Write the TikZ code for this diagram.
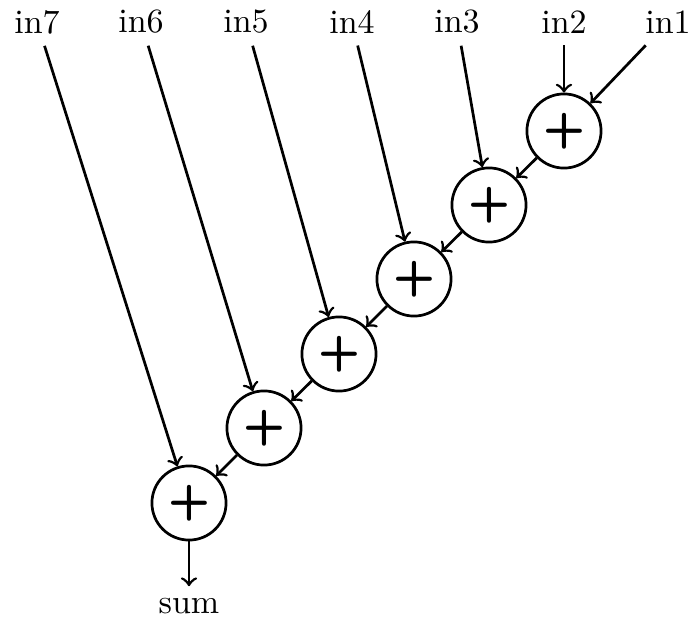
\documentclass[tikz,border=0pt]{standalone}
\begin{document}
\begin{tikzpicture}[x=0.2941pt,y=-0.2941pt,
  adder/.style={circle,draw,thick,minimum size=21.8pt,inner sep=0pt,font=\Large\sffamily\bfseries},
  lbl/.style={},
  conn/.style={->,thick}]
\useasboundingbox (0,0) rectangle (692,630);
\node[lbl] (in7) at (37,22) {in7};
\node[lbl] (in6) at (141,22) {in6};
\node[lbl] (in5) at (246,22) {in5};
\node[lbl] (in4) at (352,22) {in4};
\node[lbl] (in3) at (457,22) {in3};
\node[lbl] (in2) at (564,22) {in2};
\node[lbl] (in1) at (668,22) {in1};
\node[adder] (a1) at (564,131) {+};
\node[adder] (a2) at (489,205) {+};
\node[adder] (a3) at (414,279) {+};
\node[adder] (a4) at (339,354) {+};
\node[adder] (a5) at (264,428) {+};
\node[adder] (a6) at (189,503) {+};
\node[lbl] (sum) at (189,606) {sum};
\draw[conn] (in1) -- (a1);
\draw[conn] (in2) -- (a1);
\draw[conn] (in3) -- (a2);
\draw[conn] (in4) -- (a3);
\draw[conn] (in5) -- (a4);
\draw[conn] (in6) -- (a5);
\draw[conn] (in7) -- (a6);
\draw[conn] (a1) -- (a2);
\draw[conn] (a2) -- (a3);
\draw[conn] (a3) -- (a4);
\draw[conn] (a4) -- (a5);
\draw[conn] (a5) -- (a6);
\draw[conn] (a6) -- (sum);
\end{tikzpicture}
\end{document}
